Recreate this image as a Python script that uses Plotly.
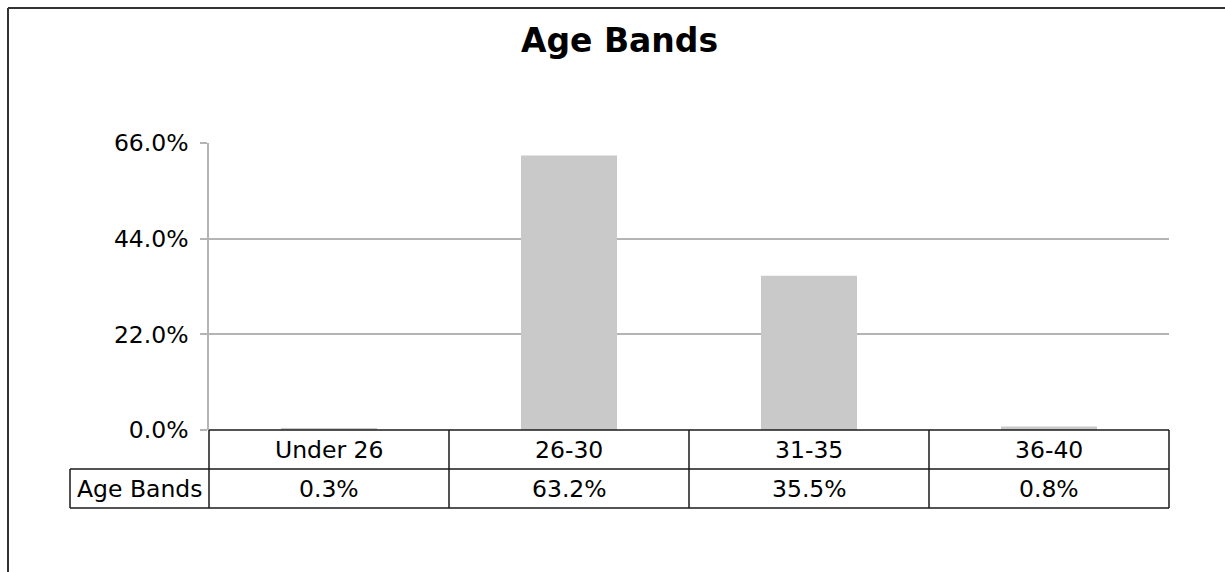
import plotly.graph_objects as go

# Chart data
categories = ["Under 26", "26-30", "31-35", "36-40"]
shares = [0.3, 63.2, 35.5, 0.8]
series_name = "Age Bands"
y_ticks = [0, 22, 44, 66]

W, H = 1225, 572
# plot area in pixels
PL, PR, PT, PB = 209, 1169, 143, 430
ROW_H = 39
LABEL_LEFT = 70

FONT = "DejaVu Sans, Verdana, sans-serif"
TXT = 23.5
LINE = "#1a1a1a"
GRID = "#b4b4b4"


def px_x(px):
    return (px - PL) / (PR - PL)


def px_y(py):
    return (PB - py) / (PB - PT)


fig = go.Figure(
    go.Bar(
        x=list(range(len(categories))),
        y=shares,
        width=0.4,
        marker=dict(color="#c9c9c9", line=dict(width=0)),
        name=series_name,
        hoverinfo="skip",
    )
)

shapes = []
# outer frame (left and top edges)
shapes.append(dict(type="line", xref="paper", yref="paper",
                   x0=px_x(8), x1=px_x(8), y0=px_y(8), y1=px_y(H + 5),
                   line=dict(color="#333333", width=2)))
shapes.append(dict(type="line", xref="paper", yref="paper",
                   x0=px_x(8), x1=px_x(W + 5), y0=px_y(8), y1=px_y(8),
                   line=dict(color="#333333", width=2)))

# data table under the axis
r0, r1, r2 = PB, PB + ROW_H, PB + 2 * ROW_H
for y_px, x_start in [(r0, PL), (r1, LABEL_LEFT), (r2, LABEL_LEFT)]:
    shapes.append(dict(type="line", xref="paper", yref="paper",
                       x0=px_x(x_start), x1=px_x(PR), y0=px_y(y_px), y1=px_y(y_px),
                       line=dict(color=LINE, width=1.5)))
col_w = (PR - PL) / len(categories)
for i in range(len(categories) + 1):
    xp = PL + i * col_w
    shapes.append(dict(type="line", xref="paper", yref="paper",
                       x0=px_x(xp), x1=px_x(xp), y0=px_y(r0), y1=px_y(r2),
                       line=dict(color=LINE, width=1.5)))
shapes.append(dict(type="line", xref="paper", yref="paper",
                   x0=px_x(LABEL_LEFT), x1=px_x(LABEL_LEFT), y0=px_y(r1), y1=px_y(r2),
                   line=dict(color=LINE, width=1.5)))

annotations = []
cell_font = dict(family=FONT, size=TXT, color="black")
for i, (cat, val) in enumerate(zip(categories, shares)):
    annotations.append(dict(x=i, y=px_y((r0 + r1) / 2), xref="x", yref="paper",
                            xanchor="center", yanchor="middle",
                            text=cat, showarrow=False, font=cell_font))
    annotations.append(dict(x=i, y=px_y((r1 + r2) / 2), xref="x", yref="paper",
                            xanchor="center", yanchor="middle",
                            text=f"{val:.1f}%", showarrow=False, font=cell_font))
annotations.append(dict(x=px_x((LABEL_LEFT + PL) / 2), y=px_y((r1 + r2) / 2),
                        xref="paper", yref="paper", xanchor="center", yanchor="middle",
                        text=series_name, showarrow=False, font=cell_font))

fig.update_layout(
    width=W,
    height=H,
    margin=dict(l=PL, r=W - PR, t=PT, b=H - PB, pad=0),
    paper_bgcolor="white",
    plot_bgcolor="white",
    showlegend=False,
    title=dict(text="<b>Age Bands</b>", x=619.5 / W, xref="container",
               y=1 - 40 / H, yref="container",
               yanchor="middle", xanchor="center",
               font=dict(family=FONT, size=33, color="black")),
    xaxis=dict(range=[-0.5, len(categories) - 0.5], showticklabels=False,
               showgrid=False, zeroline=False, showline=False, ticks=""),
    yaxis=dict(range=[0, 66.05], tickvals=y_ticks,
               ticktext=[f"{t:.1f}%" for t in y_ticks],
               showgrid=True, gridcolor=GRID, gridwidth=1.5,
               zeroline=False, showline=True, linecolor=GRID, linewidth=1.5,
               ticks="outside", ticklen=7, tickcolor=GRID, tickwidth=1.5,
               ticklabelstandoff=7,
               tickfont=dict(family=FONT, size=TXT, color="black")),
    shapes=shapes,
    annotations=annotations,
    bargap=0.6,
)

fig.write_html("out.html")
